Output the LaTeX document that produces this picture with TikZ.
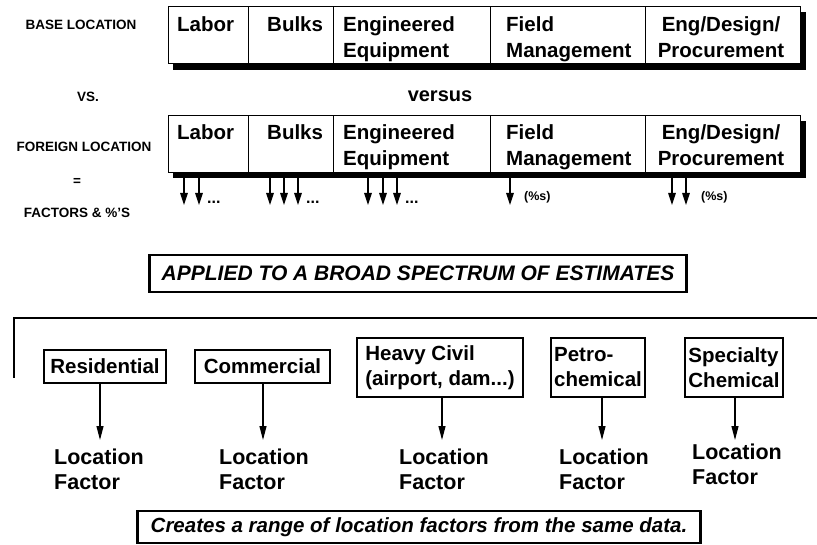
\documentclass[tikz,border=0pt]{standalone}
\usepackage{fontspec}
\setmainfont{Liberation Sans}
\usetikzlibrary{arrows.meta}
\begin{document}
\begin{tikzpicture}[x=1pt,y=-1pt,
  cell/.style={draw, line width=1.4pt, inner sep=0pt, anchor=north west, minimum height=57pt},
  lbl/.style={font=\bfseries\fontsize{20.5}{25.5}\selectfont, inner sep=0pt, align=left, anchor=north west},
  lblc/.style={lbl, align=center, anchor=north},
  side/.style={font=\bfseries\fontsize{13.5}{15}\selectfont, inner sep=0pt},
  shadow/.style={fill=black},
  farrow/.style={line width=1.2pt, -{Triangle[width=7.5pt,length=12pt]}},
  dots/.style={font=\bfseries\fontsize{16}{18}\selectfont, inner sep=0pt, anchor=base west},
  pct/.style={font=\bfseries\fontsize{12.5}{14}\selectfont, inner sep=0pt, anchor=west},
  banner/.style={draw, line width=1.6pt, inner sep=0pt, font=\bfseries\itshape\fontsize{21}{25}\selectfont},
  cat/.style={draw, line width=1.3pt, inner sep=0pt, align=left, font=\bfseries\fontsize{20.5}{25}\selectfont},
  barrow/.style={line width=1.2pt, -{Triangle[width=7pt,length=14pt]}},
  loc/.style={font=\bfseries\fontsize{21.5}{25}\selectfont, inner sep=0pt, align=left, anchor=north west}
]
\useasboundingbox[fill=white] (0,0) rectangle (817,545);

% ---- row labels on the left ----
\node[side] (lbase) at (81,25) {BASE LOCATION};
\node[side] (lvs) at (88,97) {VS.};
\node[side] (lforeign) at (84,147) {FOREIGN LOCATION};
\node[side] (leq) at (77,182) {=};
\node[side] (lfact) at (77,213) {FACTORS \& \%'S};

% ---- base location cost bar ----
\fill[shadow] (173,63) rectangle (806,70);
\fill[shadow] (800,12) rectangle (806,70);
\node[cell, minimum width=80pt]  (b1) at (168,6) {};
\node[cell, minimum width=85pt]  (b2) at (248,6) {};
\node[cell, minimum width=157pt] (b3) at (333,6) {};
\node[cell, minimum width=155pt] (b4) at (490,6) {};
\node[cell, minimum width=155pt] (b5) at (645,6) {};
\node[lbl]  (bt1) at (177,16.5) {Labor};
\node[lbl]  (bt2) at (267,16.5) {Bulks};
\node[lbl]  (bt3) at (343,16.5) {Engineered\\Equipment};
\node[lbl]  (bt4) at (506,16.5) {Field\\Management};
\node[lblc] (bt5) at (721,16.5) {Eng/Design/\\Procurement};

\node[font=\bfseries\fontsize{20}{24}\selectfont, inner sep=0pt] (versus) at (440,96) {versus};

% ---- foreign location cost bar ----
\fill[shadow] (173,172) rectangle (806,178);
\fill[shadow] (800,121) rectangle (806,178);
\node[cell, minimum width=80pt]  (f1) at (168,115) {};
\node[cell, minimum width=85pt]  (f2) at (248,115) {};
\node[cell, minimum width=157pt] (f3) at (333,115) {};
\node[cell, minimum width=155pt] (f4) at (490,115) {};
\node[cell, minimum width=155pt] (f5) at (645,115) {};
\node[lbl]  (ft1) at (177,124.5) {Labor};
\node[lbl]  (ft2) at (267,124.5) {Bulks};
\node[lbl]  (ft3) at (343,124.5) {Engineered\\Equipment};
\node[lbl]  (ft4) at (506,124.5) {Field\\Management};
\node[lblc] (ft5) at (721,124.5) {Eng/Design/\\Procurement};

% factor arrows hanging from each cost element
\foreach \x [count=\i] in {184,199, 270,284,298, 368,383,397, 510, 672,686} {
  \coordinate (tip\i) at (\x,205);
}
\foreach \i/\c in {1/f1,2/f1,3/f2,4/f2,5/f2,6/f3,7/f3,8/f3,9/f4,10/f5,11/f5} {
  \draw[farrow] (tip\i |- \c.south) -- (tip\i);
}
\node[dots] (d1) at (207,204) {...};
\node[dots] (d2) at (306,204) {...};
\node[dots] (d3) at (405,204) {...};
\node[pct] (p1) at (524,197) {(\%s)};
\node[pct] (p2) at (701,197) {(\%s)};

% ---- banner ----
\node[banner, minimum width=536pt, minimum height=37pt] (applied) at (418,273.5)
  {APPLIED TO A BROAD SPECTRUM OF ESTIMATES};
\draw[line width=3.2pt] (applied.north west) -- (applied.south west);
\draw[line width=3.2pt] (applied.north east) -- (applied.south east);

% ---- estimate types ----
\coordinate (brl) at (14,378);
\coordinate (brc) at (14,318);
\coordinate (brr) at (817,318);
\draw[line width=2.8pt] (brl) -- (brc) -- (brr);

\node[cat, minimum width=122pt, minimum height=33pt] (res)  at (105,366.5) {Residential};
\node[cat, minimum width=135pt, minimum height=33pt] (com)  at (262.5,366.5) {Commercial};
\node[cat, minimum width=166pt, minimum height=59pt] (hvy)  at (440,367.5) {Heavy Civil\\(airport, dam...)};
\node[cat, minimum width=94pt,  minimum height=59pt] (pet)  at (598,367.5) {Petro-\\chemical};
\node[cat, minimum width=98pt,  minimum height=59pt] (spc)  at (734,367.5) {Specialty\\Chemical};

\node[loc] (l1) at (54,449)  {Location\\Factor};
\node[loc] (l2) at (219,449) {Location\\Factor};
\node[loc] (l3) at (399,449) {Location\\Factor};
\node[loc] (l4) at (559,449) {Location\\Factor};
\node[loc] (l5) at (692,444) {Location\\Factor};

\coordinate (a1) at (100,440);
\coordinate (a2) at (263,440);
\coordinate (a3) at (442,440);
\coordinate (a4) at (602,440);
\coordinate (a5) at (735,440);
\draw[barrow] (a1 |- res.south) -- (a1);
\draw[barrow] (a2 |- com.south) -- (a2);
\draw[barrow] (a3 |- hvy.south) -- (a3);
\draw[barrow] (a4 |- pet.south) -- (a4);
\draw[barrow] (a5 |- spc.south) -- (a5);

% ---- conclusion ----
\node[banner, line width=1.4pt, minimum width=562pt, minimum height=32pt,
      font=\bfseries\itshape\fontsize{20.5}{24}\selectfont] (creates) at (419,527)
  {Creates a range of location factors from the same data.};
\draw[line width=2.4pt] (creates.north west) -- (creates.south west);
\draw[line width=2.4pt] (creates.north east) -- (creates.south east);
\end{tikzpicture}
\end{document}
